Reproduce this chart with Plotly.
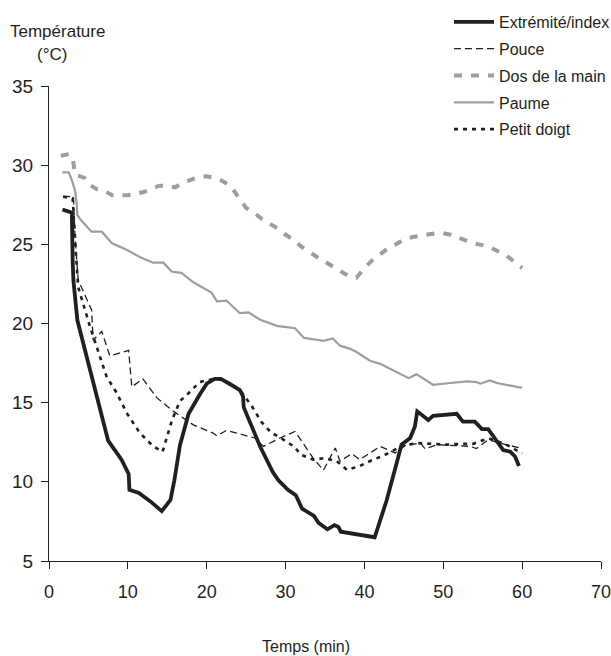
import plotly.graph_objects as go

# Extrémité/index
x_index = [1.7, 2.9, 3.0, 3.1, 3.6, 5.0, 6.5, 7.5, 9.2, 10.1, 10.2, 11.4, 12.9, 14.3, 15.4, 15.9, 16.6, 17.7, 19.1, 20.0, 21.0, 21.8, 23.2, 24.2, 24.6, 24.7, 26.8, 28.4, 29.1, 30.3, 31.3, 32.1, 33.6, 34.2, 35.3, 36.2, 36.7, 37.0, 41.3, 42.8, 44.1, 44.7, 45.8, 46.4, 46.7, 47.5, 48.1, 48.7, 51.7, 52.5, 54.0, 54.9, 55.7, 56.5, 57.6, 58.5, 59.1, 59.6]
y_index = [27.2, 27.0, 24.0, 22.7, 20.2, 17.5, 14.7, 12.6, 11.4, 10.5, 9.5, 9.3, 8.75, 8.15, 8.85, 10.1, 12.3, 14.3, 15.5, 16.2, 16.5, 16.5, 16.1, 15.8, 15.4, 14.7, 12.2, 10.6, 10.1, 9.5, 9.15, 8.3, 7.85, 7.4, 7.0, 7.27, 7.15, 6.85, 6.5, 8.8, 11.2, 12.35, 12.77, 13.5, 14.45, 14.1, 13.9, 14.17, 14.3, 13.8, 13.8, 13.33, 13.33, 12.77, 12.0, 11.9, 11.6, 11.0]

# Pouce
x_pouce = [1.8, 3.1, 3.3, 3.7, 5.4, 5.6, 6.7, 7.7, 10.1, 10.5, 11.9, 13.7, 15.8, 17.5, 18.3, 20.8, 21.3, 22.5, 26.1, 27.2, 29.3, 31.2, 33.5, 34.8, 36.3, 36.9, 38.4, 39.4, 42.0, 43.9, 45.2, 47.1, 47.7, 49.2, 53.4, 54.2, 55.7, 57.2, 59.7, 60.0]
y_pouce = [28.05, 28.0, 25.5, 22.75, 20.86, 18.96, 19.5, 17.96, 18.3, 16.0, 16.5, 15.3, 14.45, 13.9, 13.6, 13.08, 12.9, 13.25, 12.77, 12.24, 12.77, 13.18, 11.5, 10.73, 12.14, 11.3, 11.78, 11.4, 12.24, 11.82, 12.3, 12.45, 12.08, 12.35, 12.24, 12.1, 12.66, 12.45, 12.14, 12.1]

# Dos de la main
x_dos = [1.5, 2.5, 3.0, 3.3, 4.5, 5, 6, 7, 8, 9, 10, 11, 12, 13, 14, 15, 16, 17, 18, 19, 20, 21, 22, 23, 24, 25, 26, 27, 28, 29, 30, 31, 32, 33, 34, 35, 36, 37, 38, 39, 40, 41, 42, 43, 44, 45, 46, 47, 48, 49, 50, 51, 52, 53, 54, 55, 56, 57, 58, 59, 60]
y_dos = [30.6, 30.7, 30.5, 29.4, 29.2, 28.8, 28.5, 28.4, 28.1, 28.1, 28.1, 28.2, 28.3, 28.5, 28.7, 28.7, 28.6, 28.9, 29.1, 29.25, 29.3, 29.2, 29.0, 28.7, 28.0, 27.3, 27.0, 26.6, 26.3, 26.0, 25.6, 25.3, 24.85, 24.5, 24.2, 23.9, 23.6, 23.3, 23.0, 22.9, 23.5, 24.0, 24.4, 24.75, 25.0, 25.3, 25.45, 25.55, 25.65, 25.7, 25.7, 25.6, 25.4, 25.2, 25.05, 24.95, 24.8, 24.55, 24.3, 23.9, 23.5]

# Paume
x_paume = [1.7, 2.5, 2.9, 3.3, 3.5, 3.6, 4.1, 5.4, 6.7, 8.0, 9.9, 11.5, 13.2, 14.5, 15.6, 16.8, 18.3, 20.6, 21.3, 22.5, 24.2, 25.3, 26.8, 28.9, 31.2, 32.3, 34.8, 36.0, 36.9, 38.2, 39.0, 40.7, 42.0, 43.9, 45.6, 46.6, 48.7, 50.9, 53.0, 54.2, 54.7, 55.9, 56.8, 59.5, 60.0]
y_paume = [29.55, 29.55, 29.05, 28.4, 27.6, 26.85, 26.5, 25.8, 25.8, 25.06, 24.64, 24.2, 23.84, 23.84, 23.27, 23.2, 22.6, 21.95, 21.4, 21.45, 20.65, 20.7, 20.23, 19.85, 19.7, 19.1, 18.9, 19.05, 18.6, 18.4, 18.2, 17.65, 17.45, 16.97, 16.55, 16.8, 16.13, 16.24, 16.34, 16.3, 16.2, 16.4, 16.24, 15.98, 15.95]

# Petit doigt
x_petit = [1.8, 3.0, 3.4, 3.7, 5.2, 5.8, 7.3, 8.6, 9.85, 11.5, 13.2, 14.4, 15.6, 16.6, 17.5, 19.1, 20.8, 22.0, 23.0, 24.2, 25.7, 26.9, 28.2, 29.3, 31.0, 32.0, 33.5, 35.0, 36.5, 37.8, 39.4, 41.1, 42.4, 44.7, 46.6, 50.4, 52.1, 53.8, 55.7, 57.8, 59.5, 60.0]
y_petit = [28.0, 27.9, 24.5, 22.3, 19.8, 18.9, 16.65, 15.6, 14.35, 13.1, 12.25, 11.9, 13.9, 15.1, 15.5, 16.3, 16.5, 16.45, 16.2, 15.8, 14.8, 13.8, 13.1, 12.8, 12.25, 11.7, 11.4, 11.5, 11.3, 10.75, 11.0, 11.4, 11.65, 12.25, 12.45, 12.35, 12.4, 12.4, 12.75, 12.4, 11.9, 11.8]

x_ticks = [0, 10, 20, 30, 40, 50, 60, 70]
y_ticks = [5, 10, 15, 20, 25, 30, 35]

FONT = "Liberation Sans, Arial, sans-serif"
INK = "#231f20"
GREY = "#9d9d9f"

L, R, T, B = 49, 10, 86, 95
W, H = 611, 656
pw, ph = W - L - R, H - T - B
def px(xp): return (xp - L) / pw
def py(yp): return (H - B - yp) / ph

fig = go.Figure()
fig.add_trace(go.Scatter(x=x_dos, y=y_dos, mode="lines", name="Dos de la main", legendgroup="c",
                         line=dict(color=GREY, width=4, dash="8px,9px"), legendrank=3))
fig.add_trace(go.Scatter(x=x_paume, y=y_paume, mode="lines", name="Paume", legendgroup="d",
                         line=dict(color=GREY, width=2.2), legendrank=4))
fig.add_trace(go.Scatter(x=x_pouce, y=y_pouce, mode="lines", name="Pouce", legendgroup="b",
                         line=dict(color=INK, width=1.3, dash="7px,4px"), legendrank=2))
fig.add_trace(go.Scatter(x=x_petit, y=y_petit, mode="lines", name="Petit doigt", legendgroup="e",
                         line=dict(color=INK, width=2.6, dash="4px,5px"), legendrank=5))
fig.add_trace(go.Scatter(x=x_index, y=y_index, mode="lines", name="Extrémité/index", legendgroup="a",
                         line=dict(color=INK, width=3.8), legendrank=1))

fig.update_layout(
    width=W, height=H,
    margin=dict(l=L, r=R, t=T, b=B, autoexpand=False),
    paper_bgcolor="white", plot_bgcolor="white",
    font=dict(family=FONT, size=16, color=INK),
    legend=dict(x=px(449), y=py(5), xanchor="left", yanchor="top",
                font=dict(size=16, family=FONT, color=INK),
                bgcolor="rgba(0,0,0,0)", tracegroupgap=3, itemwidth=40),
    xaxis=dict(range=[0, 70], tickvals=x_ticks, showline=True, linecolor=INK, linewidth=1.2,
               ticks="outside", ticklen=7, tickcolor=INK, showgrid=False, zeroline=False,
               tickfont=dict(size=18), ticklabelstandoff=7, ticklabeloverflow="allow",
               fixedrange=True),
    yaxis=dict(range=[5, 35], tickvals=y_ticks, showline=True, linecolor=INK, linewidth=1.2,
               ticks="outside", ticklen=7, tickcolor=INK, showgrid=False, zeroline=False,
               tickfont=dict(size=19), ticklabelstandoff=4, ticklabeloverflow="allow",
               fixedrange=True),
    annotations=[
        dict(text="Température", x=px(57), y=py(31), xref="paper", yref="paper",
             showarrow=False, xanchor="center", yanchor="middle", font=dict(size=17)),
        dict(text="(°C)", x=px(52), y=py(55), xref="paper", yref="paper",
             showarrow=False, xanchor="center", yanchor="middle", font=dict(size=17)),
        dict(text="Temps (min)", x=px(306), y=py(646), xref="paper", yref="paper",
             showarrow=False, xanchor="center", yanchor="middle", font=dict(size=16)),
    ],
)

fig.write_html("out.html")
